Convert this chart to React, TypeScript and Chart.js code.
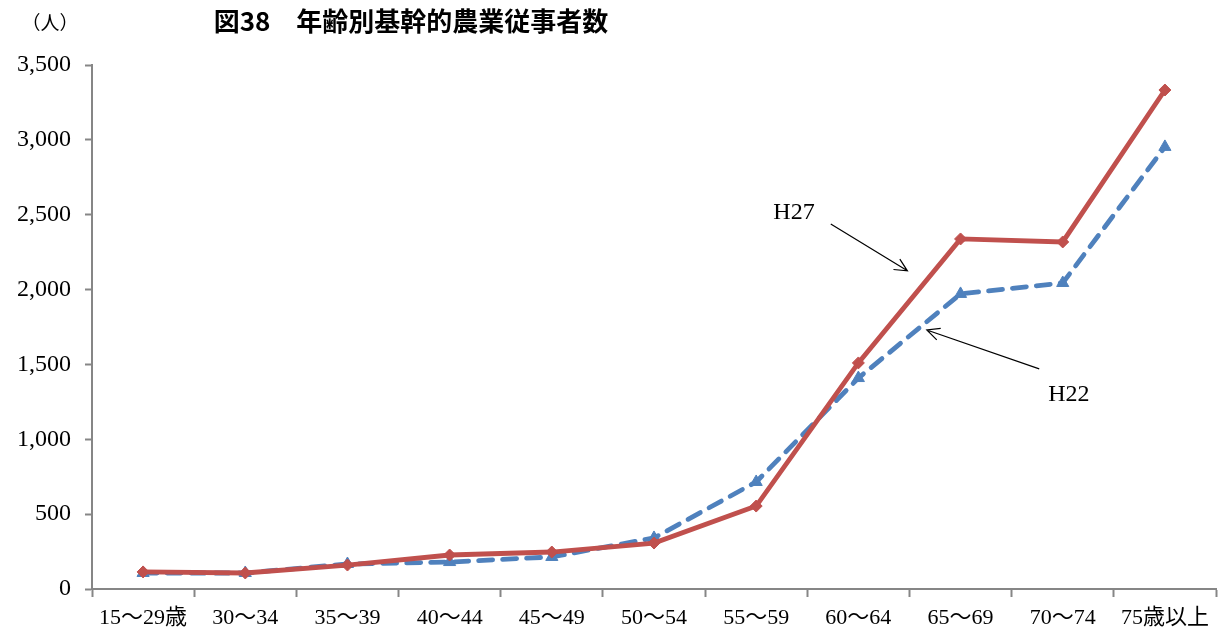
import React, { useEffect, useRef } from "react";
import { Chart, registerables } from "chart.js";

Chart.register(...registerables);

const categories = ["15～29歳", "30～34", "35～39", "40～44", "45～49", "50～54", "55～59", "60～64", "65～69", "70～74", "75歳以上"];
const h27Values = [114, 107, 160, 227, 247, 307, 554, 1510, 2338, 2318, 3333];
const h22Values = [107, 107, 167, 180, 214, 341, 715, 1409, 1971, 2044, 2953];
const yTicks = [0, 500, 1000, 1500, 2000, 2500, 3000, 3500];
const titleText = "図38\u3000年齢別基幹的農業従事者数";
const unitText = "（人）";

// annotation anchors in data space: [categoryIndex, value]
const h27Label = { text: "H27", at: [6.37, 2512], tail: [6.73, 2438], tip: [7.48, 2125] };
const h22Label = { text: "H22", at: [9.06, 1296], tail: [8.77, 1470], tip: [7.67, 1730] };

const SERIF = "'Liberation Serif', 'DejaVu Serif', 'Noto Sans CJK JP', serif";

const annotPlugin = {
  id: "annot",
  afterDraw(chart: any) {
    const ctx = chart.ctx;
    const xs = chart.scales.x;
    const ys = chart.scales.y;
    ctx.save();
    // title
    ctx.fillStyle = "#000";
    ctx.font = "bold 26px 'Noto Sans CJK JP', sans-serif";
    ctx.textAlign = "center";
    ctx.textBaseline = "middle";
    ctx.fillText(titleText, 411, 21);
    ctx.font = "19px " + SERIF;
    ctx.fillText(unitText, 50, 25);

    const drawArrow = (a: any) => {
      const px = (p: number[]) => [xs.getPixelForValue(p[0]), ys.getPixelForValue(p[1])];
      const [tx, ty] = px(a.at);
      const [x1, y1] = px(a.tail);
      const [x2, y2] = px(a.tip);
      ctx.font = "24px " + SERIF;
      ctx.fillStyle = "#000";
      ctx.textAlign = "center";
      ctx.textBaseline = "middle";
      ctx.fillText(a.text, tx, ty);
      ctx.strokeStyle = "#000";
      ctx.lineWidth = 1.2;
      ctx.beginPath();
      ctx.moveTo(x1, y1);
      ctx.lineTo(x2, y2);
      const ang = Math.atan2(y2 - y1, x2 - x1);
      const L = 14, spread = 0.45;
      ctx.moveTo(x2 - L * Math.cos(ang - spread), y2 - L * Math.sin(ang - spread));
      ctx.lineTo(x2, y2);
      ctx.lineTo(x2 - L * Math.cos(ang + spread), y2 - L * Math.sin(ang + spread));
      ctx.stroke();
    };
    drawArrow(h27Label);
    drawArrow(h22Label);
    ctx.restore();
  },
};

export default function App() {
  const ref = useRef<HTMLCanvasElement>(null);
  useEffect(() => {
    const chart = new Chart(ref.current!, {
      type: "line",
      data: {
        labels: categories,
        datasets: [
          {
            label: "H27",
            data: h27Values,
            borderColor: "#C0504D",
            backgroundColor: "#C0504D",
            borderWidth: 4.8,
            pointStyle: "rectRot",
            pointRadius: 6,
            pointBorderWidth: 1,
            tension: 0,
          },
          {
            label: "H22",
            data: h22Values,
            borderColor: "#4F81BD",
            backgroundColor: "#4F81BD",
            borderWidth: 4.8,
            borderDash: [14, 10],
            borderCapStyle: "round",
            pointStyle: "triangle",
            pointRadius: 7,
            pointBorderWidth: 1,
            tension: 0,
          },
        ],
      },
      options: {
        responsive: false,
        animation: false,
        layout: { padding: { left: 0, right: 0, top: 65, bottom: 0 } },
        plugins: { legend: { display: false }, tooltip: { enabled: false }, title: { display: false } },
        scales: {
          x: {
            offset: true,
            grid: { drawOnChartArea: false, drawTicks: true, tickLength: 8, tickColor: "#868686", tickWidth: 2, offset: true },
            border: { display: true, color: "#868686", width: 2 },
            ticks: { color: "#000", font: { family: SERIF, size: 22 }, padding: 8, maxRotation: 0, autoSkip: false },
            afterFit(scale: any) { scale.height = 41; },
          },
          y: {
            min: 0,
            max: 3500,
            afterBuildTicks(scale: any) { scale.ticks = yTicks.map((v) => ({ value: v })); },
            grid: { drawOnChartArea: false, drawTicks: true, tickLength: 7, tickColor: "#868686", tickWidth: 2 },
            border: { display: true, color: "#868686", width: 2 },
            ticks: {
              color: "#000",
              font: { family: SERIF, size: 24 },
              padding: 14,
              callback: (v: any) => Number(v).toLocaleString("en-US"),
            },
            afterFit(scale: any) { scale.width = 92; },
          },
        },
      },
      plugins: [annotPlugin],
    });
    return () => chart.destroy();
  }, []);
  return (
    <div style={{ position: "fixed", left: 0, top: 0, width: 1224, height: 630, background: "#fff" }}>
      <canvas ref={ref} width={1224} height={630} />
    </div>
  );
}
